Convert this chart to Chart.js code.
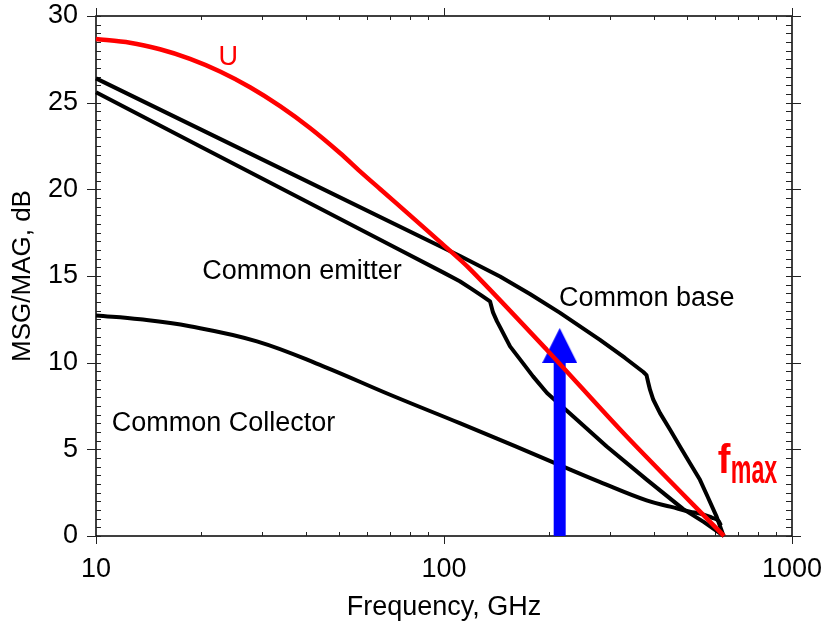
<!DOCTYPE html>
<html>
<head>
<meta charset="utf-8">
<script src="https://cdn.jsdelivr.net/npm/chart.js@4.4.0/dist/chart.umd.min.js"></script>
<style>
  html, body { margin: 0; padding: 0; background: #fff; }
  #wrap { width: 827px; height: 628px; }
</style>
</head>
<body>
<div id="wrap"><canvas id="gainChart" width="827" height="628"></canvas></div>
<script>
// --- Data: frequency in GHz, gain in dB ---
const uFreq  = [10, 12.52, 15.27, 18.63, 22.72, 27.71, 33.8, 41.2, 50.24, 57.37, 65.5, 79.9, 97.4, 118.8, 197.3, 335, 637.8];
const uGain  = [28.67, 28.46, 28.08, 27.53, 26.8, 25.89, 24.8, 23.54, 22.1, 21.04, 20.02, 18.5, 16.97, 15.4, 10.75, 5.74, 0];

const cbFreq = [10, 38.57, 111.2, 144.9, 176.6, 215, 280.7, 331.3, 373.9, 381.9, 386.5, 390.8, 399.5, 417.6, 446.4, 476.5, 509.2, 543.9, 573.6, 607.6, 635.7];
const cbGain = [26.4, 20.66, 16.15, 14.97, 13.96, 12.89, 11.32, 10.27, 9.46, 9.28, 8.83, 8.44, 7.86, 7.09, 6.13, 5.16, 4.2, 3.24, 2.22, 1.1, 0];

const ceFreq = [10, 20, 40, 74.7, 100, 111, 120, 128, 135.6, 138.3, 142, 144.9, 149.7, 154.8, 165.4, 180.2, 197.7, 235.3, 293.5, 383.1, 487, 558.7, 637.8];
const ceGain = [25.6, 22.46, 19.33, 16.5, 15.18, 14.7, 14.26, 13.88, 13.54, 12.9, 12.38, 12.05, 11.5, 10.94, 10.19, 9.21, 8.25, 6.9, 5.16, 3.24, 1.55, 0.8, 0];

const ccFreq = [10, 13.4, 18.6, 29, 45, 70, 111, 160, 220, 280, 382, 450, 509, 544, 590, 613, 625];
const ccGain = [12.72, 12.5, 12.1, 11.23, 9.79, 8.15, 6.51, 5.19, 4.0, 3.12, 2.05, 1.68, 1.4, 1.3, 1.05, 0.9, 0.6];

// blue arrow at the operating frequency
const arrowFreq = 215;
const arrowBase = 0;
const arrowTop  = 10.2;
const arrowTip  = 12.0;

// --- Axis ticks ---
const xMajor = [10, 100, 1000];
const xMinor = [20, 30, 40, 50, 60, 70, 80, 90, 200, 300, 400, 500, 600, 700, 800, 900];
const yMajor = [0, 5, 10, 15, 20, 25, 30];
const yMinor = [];
for (let v = 0; v <= 30; v += 0.5) yMinor.push(v);

const FONT = '"Liberation Sans", Arial, Helvetica, sans-serif';
const RED = '#ff0000', BLUE = '#0000ff';

// --- Text annotations (placed in data coordinates) ---
const notes = [
  { text: 'U', f: 24, db: 27.2, color: RED, size: 27, align: 'center' },
  { text: 'Common emitter', f: 20.2, db: 14.8, color: '#000', size: 27 },
  { text: 'Common base', f: 214, db: 13.25, color: '#000', size: 27 },
  { text: 'Common Collector', f: 11.1, db: 6.03, color: '#000', size: 27 },
  { text: 'f', f: 612, db: 3.62, color: RED, size: 40, bold: true, sx: 0.95 },
  { text: 'max', f: 667, db: 3.08, color: RED, size: 40, bold: true, sx: 0.58 }
];

const pts = (xs, ys) => xs.map((x, i) => ({ x: x, y: ys[i] }));

// arrow head as a point image, tip at the image centre
function makeHead(w, h, color) {
  const c = document.createElement('canvas');
  c.width = w; c.height = h * 2;
  const g = c.getContext('2d');
  g.fillStyle = color;
  g.beginPath();
  g.moveTo(w / 2, h);
  g.lineTo(w, 2 * h);
  g.lineTo(0, 2 * h);
  g.closePath();
  g.fill();
  return c;
}

// frame + inward minor / outward major ticks
const framePlugin = {
  id: 'frame',
  beforeDatasetsDraw(chart) {
    const { ctx, chartArea: a, scales: { x, y } } = chart;
    ctx.save();
    ctx.strokeStyle = '#000';
    ctx.lineWidth = 1.5;
    ctx.strokeRect(a.left, a.top, a.right - a.left, a.bottom - a.top);

    ctx.lineWidth = 1;
    ctx.strokeStyle = '#222';
    ctx.beginPath();
    yMinor.forEach(v => {
      const py = Math.round(y.getPixelForValue(v)) + 0.5;
      ctx.moveTo(a.left, py); ctx.lineTo(a.left + 5, py);
      ctx.moveTo(a.right, py); ctx.lineTo(a.right - 6, py);
    });
    yMajor.forEach(v => {
      const py = Math.round(y.getPixelForValue(v)) + 0.5;
      ctx.moveTo(a.left - 9, py); ctx.lineTo(a.left, py);
      ctx.moveTo(a.right, py); ctx.lineTo(a.right + 9, py);
    });
    xMinor.forEach(v => {
      const px = Math.round(x.getPixelForValue(v)) + 0.5;
      ctx.moveTo(px, a.bottom); ctx.lineTo(px, a.bottom - 4);
      ctx.moveTo(px, a.top); ctx.lineTo(px, a.top + 4);
    });
    xMajor.forEach(v => {
      const px = Math.round(x.getPixelForValue(v)) + 0.5;
      ctx.moveTo(px, a.bottom); ctx.lineTo(px, a.bottom + 8);
      ctx.moveTo(px, a.top); ctx.lineTo(px, a.top - 8);
    });
    ctx.stroke();
    ctx.restore();
  },
  afterDatasetsDraw(chart) {
    const { ctx, scales: { x, y } } = chart;
    ctx.save();
    ctx.textBaseline = 'alphabetic';
    notes.forEach(n => {
      const px = x.getPixelForValue(n.f);
      const py = y.getPixelForValue(n.db);
      ctx.save();
      ctx.translate(px, py);
      ctx.scale(n.sx || 1, 1);
      ctx.font = (n.bold ? 'bold ' : '') + n.size + 'px ' + FONT;
      ctx.fillStyle = n.color;
      ctx.textAlign = n.align || 'left';
      ctx.fillText(n.text, 0, 0);
      ctx.restore();
    });
    ctx.restore();
  }
};

const line = (data, color, width) => ({
  data: data, showLine: true, borderColor: color, borderWidth: width,
  pointRadius: 0, fill: false, borderJoinStyle: 'round', clip: 6
});

// fixed axis boxes so the plot area lands where the reference has it
const noPad = s => { s.paddingTop = 0; s.paddingBottom = 0; s.paddingLeft = 0; s.paddingRight = 0; };

new Chart(document.getElementById('gainChart'), {
  type: 'scatter',
  data: {
    datasets: [
      Object.assign(line(pts(uFreq, uGain), RED, 4.5), { tension: 0.3 }),
      { data: [{ x: arrowFreq, y: arrowTip }], pointStyle: makeHead(35, 35, BLUE), pointRadius: 5, showLine: false, clip: false },
      Object.assign(line([{ x: arrowFreq, y: arrowBase }, { x: arrowFreq, y: arrowTop }], BLUE, 12), { borderCapStyle: 'butt' }),
      Object.assign(line(pts(cbFreq, cbGain), '#000', 4), { tension: 0 }),
      Object.assign(line(pts(ceFreq, ceGain), '#000', 4), { tension: 0 }),
      Object.assign(line(pts(ccFreq, ccGain), '#000', 4), { tension: 0.4 })
    ]
  },
  options: {
    responsive: false,
    animation: false,
    devicePixelRatio: 1,
    layout: { padding: { top: 16, right: 35, left: 0, bottom: 0 } },
    plugins: { legend: { display: false }, tooltip: { enabled: false } },
    scales: {
      x: {
        type: 'logarithmic', min: 10, max: 1000,
        afterBuildTicks: s => { s.ticks = xMajor.map(v => ({ value: v })); },
        afterFit: s => { s.height = 92; noPad(s); },
        grid: { display: false, drawTicks: false },
        border: { display: false },
        ticks: { color: '#000', font: { family: FONT, size: 27 }, padding: 17, maxRotation: 0, autoSkip: false,
                 callback: v => String(v) },
        title: { display: true, text: 'Frequency, GHz', color: '#000', font: { family: FONT, size: 27 },
                 padding: { top: 0, bottom: 4 } }
      },
      y: {
        type: 'linear', min: 0, max: 30,
        afterFit: s => { s.width = 96; noPad(s); },
        grid: { display: false, drawTicks: false },
        border: { display: false },
        ticks: { stepSize: 5, color: '#000', font: { family: FONT, size: 27 }, padding: 18 },
        title: { display: true, text: 'MSG/MAG, dB', color: '#000', font: { family: FONT, size: 26 },
                 padding: { top: 7, bottom: 0 } }
      }
    }
  },
  plugins: [framePlugin]
});
</script>
</body>
</html>
